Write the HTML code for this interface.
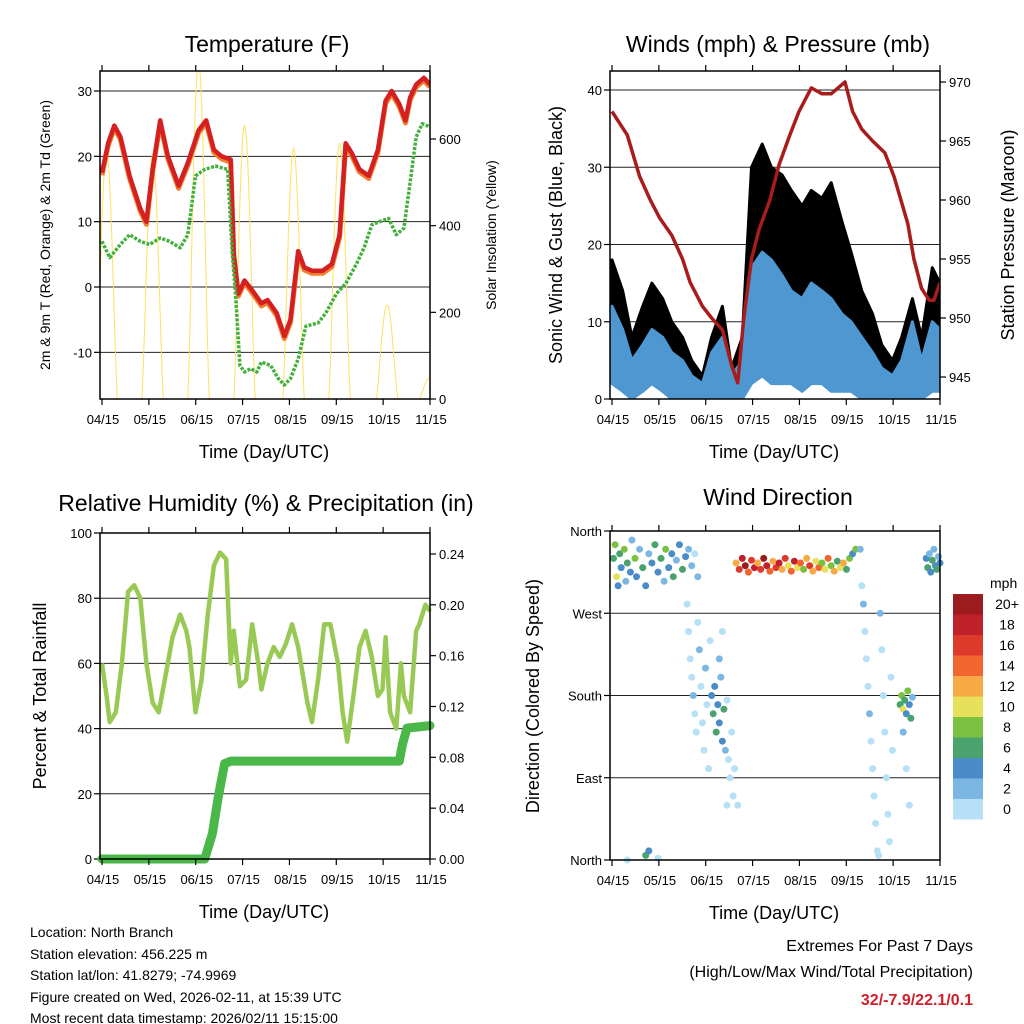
<!DOCTYPE html>
<html><head><meta charset="utf-8">
<style>
html,body{margin:0;padding:0;background:#fff;}
svg{display:block;font-family:"Liberation Sans",sans-serif;}
</style></head>
<body>
<svg id="chart" width="1024" height="1024" viewBox="0 0 1024 1024">
<rect width="1024" height="1024" fill="#fff"/>
<g id="g1"></g>
<g id="g2"></g>
<g id="g3"></g>
<g id="g4"></g>
<g id="txt">
<text x="30" y="937" font-size="14">Location: North Branch</text>
<text x="30" y="959" font-size="14">Station elevation: 456.225 m</text>
<text x="30" y="980" font-size="14">Station lat/lon: 41.8279; -74.9969</text>
<text x="30" y="1002" font-size="14">Figure created on Wed, 2026-02-11, at 15:39 UTC</text>
<text x="30" y="1023" font-size="14">Most recent data timestamp: 2026/02/11 15:15:00</text>
<text x="973" y="951" font-size="16" text-anchor="end">Extremes For Past 7 Days</text>
<text x="973" y="977" font-size="16" text-anchor="end">(High/Low/Max Wind/Total Precipitation)</text>
<text x="973" y="1005" font-size="16" font-weight="bold" fill="#d0202a" text-anchor="end">32/-7.9/22.1/0.1</text>
</g>
</svg>
<script>
// ---- data ----
const dateLabels=["04/15","05/15","06/15","07/15","08/15","09/15","10/15","11/15"];
const tempDays=[0,4,8,12,18,25,29,33,38,43,50,56,63,68,73,78,84,86,89,93,98,104,108,114,119,123,128,132,137,144,150,155,159,163,168,174,180,185,189,194,198,201,205,210,214];
const tempVals=[17.5,22,24.7,23,17,12,10,18,25.5,20,15.5,19,24,25.5,21,20,19.5,5,-1,1,-0.5,-2.5,-2,-4,-7.5,-5,5.5,3,2.5,2.5,3.5,8,22,20.5,18,17,21,28.5,30,28,25.5,29,31,32,31];
const dewDays=[0,5,12,18,25,31,38,44,51,56,61,67,74,82,85,87,90,93,97,101,104,110,115,119,123,128,133,141,146,153,159,166,171,176,181,187,192,197,201,205,209,214];
const dewVals=[7,4.5,6.5,8,7,6.5,7.5,7,6,8,17,18,18.5,18,5,-0.5,-12,-13,-12.5,-13,-11.5,-12,-14,-15,-14,-11,-6,-5.5,-4,-1,0.5,3.5,6,9.5,10,10.5,8,9,16,23,25,24.5];
const solarDays=[3,33,63,93,125,155,186,214];
const solarPeaks=[570,563,780,632,579,590,217,50];
const windDays=[0,7,13,20,26,33,39,46,52,59,65,72,78,85,91,98,104,111,117,124,130,137,143,150,156,163,170,176,183,189,196,202,209,214];
const gustHi=[18,14,8,12,15,13,10,8,5,3,8,12,4,8,30,33,30,29,27,25,27,26,28,23,19,14,11,7,5,8,13,8,17,15];
const gustLo=[5,3,2,4,6,4,2,1,0,0,0,1,0,1,8,9,8,7,6,5,6,5,5,4,3,2,2,0,0,0,2,0,3,4];
const windHi=[12,9,5,7,9,8,6,5,3,2,6,8,3,5,17,19,18,16,14,13,15,14,13,11,10,8,6,4,3,5,10,5,10,9];
const windLo=[2,1,0,1,2,1,0,0,0,0,0,0,0,0,2,3,2,2,2,1,2,2,1,1,1,0,0,0,0,0,0,0,1,1];
const presDays=[0,5,10,18,25,31,39,46,51,59,65,72,78,82,86,91,96,103,109,116,122,130,137,143,152,157,163,170,178,184,193,197,202,207,210,214];
const presVals=[967.5,966.5,965.5,962,960,958.5,957,955,953,951,950,949,946,944.5,950,955,957.5,960,963,965.5,967.5,969.5,969,969,970,967.5,966,965,964,962,958,955,952.5,951.5,951.5,953];
const rhDays=[0,3,5,9,13,17,21,25,29,33,37,41,46,51,55,57,61,65,69,73,77,81,84,86,90,94,98,102,104,108,112,116,120,124,128,134,137,141,145,149,154,157,160,164,168,172,176,180,183,185,188,192,195,197,201,205,207,211,214];
const rhVals=[60,50,42,45,60,82,84,80,60,48,45,55,68,75,70,65,45,55,75,90,94,92,60,70,53,55,72,60,52,60,65,62,66,72,65,48,42,55,72,72,60,45,36,50,65,70,62,50,52,68,45,40,60,50,45,70,72,78,76];
const rainDays=[0,67,72,76,80,84,194,196,199,214];
const rainVals=[0,0,0.02,0.05,0.075,0.077,0.077,0.09,0.103,0.105];
const dirDays=[1,2,3,4,5,6,8,9,10,12,13,15,16,18,20,22,24,26,28,30,32,34,35,37,39,40,42,44,46,48,50,52,54,56,
49,50,51,52,53,54,55,56,57,58,59,60,61,62,63,64,65,66,67,68,69,70,71,72,73,74,75,76,77,78,79,80,82,70,72,75,
81,83,85,87,89,91,93,95,97,99,101,103,105,107,109,111,113,115,117,119,121,123,125,127,129,131,133,135,137,139,141,143,145,147,149,151,153,155,157,159,
162,163,164,165,166,167,168,169,170,171,172,173,174,175,176,177,178,179,180,181,182,183,
188,189,190,191,192,193,194,195,196,190,192,194,205,206,207,208,209,210,211,212,213,214,10,22,24,30];
const dirDeg=[330,345,310,300,335,320,340,305,325,315,350,330,310,340,320,300,335,325,345,315,330,305,340,320,335,310,328,345,318,332,340,322,335,310,
280,250,220,200,180,160,140,260,230,190,150,120,210,170,100,240,180,160,190,140,170,150,200,130,165,120,175,110,90,140,70,100,60,220,250,60,
325,318,330,322,315,328,320,325,318,330,322,316,327,320,325,318,330,322,316,327,320,325,318,330,322,316,327,320,325,318,330,322,316,327,320,325,318,330,335,340,
340,300,280,250,220,190,160,130,100,70,40,10,5,270,230,180,140,90,50,20,200,120,
170,180,165,175,160,185,170,155,178,140,100,60,330,320,335,315,328,340,322,318,332,325,0,5,10,2];
const dirSpeed=[6,8,10,4,7,5,9,3,6,4,2,8,5,3,6,4,2,5,7,4,6,3,8,5,4,6,3,5,7,4,2,3,1,2,
1,0,1,0,2,1,0,1,2,1,0,1,2,1,0,1,4,6,5,7,4,5,3,4,6,2,1,0,1,0,1,0,0,2,1,1,
12,16,18,20,14,17,19,12,16,20,18,15,13,17,19,12,16,10,14,18,11,15,9,13,17,12,10,14,8,11,15,9,12,7,10,13,6,9,5,8,
3,1,2,1,0,1,2,0,1,0,1,0,0,2,1,0,1,0,1,0,1,0,
6,8,10,7,5,9,4,6,3,2,1,0,4,6,3,5,7,2,4,6,3,5,1,6,4,1];
const speedColors=["#b5e0f5","#7cb7e3","#4a8cc7","#4aa36c","#7ac142","#e6e05a","#f7a945","#f26430","#de3a2b","#c0202a","#9b1b1e"];
const speedLabels=["0","2","4","6","8","10","12","14","16","18","20+"];

// ---- helpers ----
const NS="http://www.w3.org/2000/svg";
function mk(parent,tag,attrs,text){const e=document.createElementNS(NS,tag);for(const k in attrs)e.setAttribute(k,attrs[k]);if(text!==undefined)e.textContent=text;parent.appendChild(e);return e;}
function lin(d0,d1,r0,r1){return v=>r0+(v-d0)*(r1-r0)/(d1-d0);}
function pathFrom(xs,ys,fx,fy){return xs.map((d,i)=>(i?"L":"M")+fx(d).toFixed(1)+","+fy(ys[i]).toFixed(1)).join("");}

function frame(g,L,T,R,B,name){
  const r=mk(g,"rect",{x:L,y:T,width:R-L,height:B-T,fill:"none",stroke:"#000","stroke-width":1.5});
  
  
}
function xAxis(g,fx,B,T,name){
  dateLabels.forEach((lab,i)=>{
    const x=fx(i*214/7);
    const t=mk(g,"line",{x1:x,y1:B,x2:x,y2:B+6,stroke:"#000","stroke-width":1.2});
    
    
    const t2=mk(g,"line",{x1:x,y1:T,x2:x,y2:T-6,stroke:"#000","stroke-width":1.2});
    
    
    const tx=mk(g,"text",{x:x+1,y:B+25,"font-size":13,"text-anchor":"middle"},lab);
    
    
  });
  const cx=(fx(0)+fx(214))/2-2;
  const at=mk(g,"text",{x:cx,y:B+59,"font-size":18,"text-anchor":"middle"},"Time (Day/UTC)");
  
  
}
function yTicks(g,vals,labs,fy,x,side,grid,L,R){
  vals.forEach((v,i)=>{
    const y=fy(v);
    if(grid&&y>fy.top+2&&y<fy.bot-2){const gl=mk(g,"line",{x1:L,y1:y,x2:R,y2:y,stroke:"#222","stroke-width":1});
      
      }
    const tk=mk(g,"line",{x1:x,y1:y,x2:x+(side<0?-6:6),y2:y,stroke:"#000","stroke-width":1.2});
    
    
    const tx=mk(g,"text",{x:x+(side<0?-8:9),y:y+5,"font-size":13,"text-anchor":side<0?"end":"start"},labs[i]);
    
    
  });
}
function vtext(g,x,y,s,size,name){
  const t=mk(g,"text",{x:x,y:y,"font-size":size,"text-anchor":"middle",transform:`rotate(-90 ${x} ${y})`},s);
  
  
}
function title(g,x,y,s,name){
  const t=mk(g,"text",{x:x,y:y,"font-size":23,"text-anchor":"middle"},s);
  
  
}

// ---- Panel 1 ----
(function(){
  const g=document.getElementById("g1");
  const L=100,R=430,T=71,B=399;
  const fx=lin(0,214,102,430);
  const fy=lin(0,30,287,91); fy.top=T; fy.bot=B;
  const fs=lin(0,600,399,139); fs.top=T; fs.bot=B;
  title(g,267,52,"Temperature (F)","temperature-title");
  const defs=mk(g,"clipPath",{id:"c1"}); mk(defs,"rect",{x:L,y:T,width:R-L,height:B-T});
  yTicks(g,[-10,0,10,20,30],["-10","0","10","20","30"],fy,L,-1,true,L,R);
  yTicks(g,[0,200,400,600],["0","200","400","600"],fs,R,1,false,L,R);
  const cg=mk(g,"g",{"clip-path":"url(#c1)"});
  solarDays.forEach((d,i)=>{
    let p="";const w=7;
    for(let k=0;k<=20;k++){const dd=d-w+k*w/10;const v=solarPeaks[i]*Math.pow(Math.sin(Math.PI*k/20),1.3);p+=(k?"L":"M")+fx(dd).toFixed(1)+","+fs(v).toFixed(1);}
    const s=mk(cg,"path",{d:p,fill:"none",stroke:"#ffe060","stroke-width":1});
    
    
  });
  const o=mk(cg,"path",{d:pathFrom(tempDays,tempVals.map(v=>v-0.4),fx,fy),fill:"none",stroke:"#f08030","stroke-width":5,"stroke-linejoin":"round"});
  
  
  const r=mk(cg,"path",{d:pathFrom(tempDays,tempVals,fx,fy),fill:"none",stroke:"#d42020","stroke-width":4.5,"stroke-linejoin":"round"});
  
  
  const gr=mk(cg,"path",{d:pathFrom(dewDays,dewVals,fx,fy),fill:"none",stroke:"#44b03c","stroke-width":3.5,"stroke-dasharray":"3 1.5","stroke-linejoin":"round"});
  
  
  frame(g,L,T,R,B,"temperature");
  xAxis(g,fx,B,T,"temperature");
  vtext(g,50,235,"2m & 9m T (Red, Orange) & 2m Td (Green)",14,"temperature-y-axis-title");
  vtext(g,496,235,"Solar Insolation (Yellow)",14,"solar-y-axis-title");
})();

// ---- Panel 2 ----
(function(){
  const g=document.getElementById("g2");
  const L=610,R=940,T=71,B=399;
  const fx=lin(0,214,612,940);
  const fy=lin(0,40,399,90); fy.top=T; fy.bot=B;
  const fp=lin(945,970,377,82); fp.top=T; fp.bot=B;
  title(g,778,52,"Winds (mph) & Pressure (mb)","winds-title");
  const defs=mk(g,"clipPath",{id:"c2"}); mk(defs,"rect",{x:L,y:T,width:R-L,height:B-T});
  yTicks(g,[0,10,20,30,40],["0","10","20","30","40"],fy,L,-1,true,L,R);
  yTicks(g,[945,950,955,960,965,970],["945","950","955","960","965","970"],fp,R,1,false,L,R);
  const cg=mk(g,"g",{"clip-path":"url(#c2)"});
  function band(hi,lo,col,name){
    let p=pathFrom(windDays,hi,fx,fy);
    for(let i=windDays.length-1;i>=0;i--)p+="L"+fx(windDays[i]).toFixed(1)+","+fy(lo[i]).toFixed(1);
    const e=mk(cg,"path",{d:p+"Z",fill:col,stroke:col,"stroke-width":3,"stroke-linejoin":"round"});
    
    
  }
  band(gustHi,gustLo,"#000","gust-black-band");
  band(windHi,windLo,"#4f97d0","wind-blue-band");
  const pl=mk(cg,"path",{d:pathFrom(presDays,presVals,fx,fp),fill:"none",stroke:"#a81c1c","stroke-width":3.5,"stroke-linejoin":"round"});
  
  
  frame(g,L,T,R,B,"winds");
  xAxis(g,fx,B,T,"winds");
  vtext(g,562,235,"Sonic Wind & Gust (Blue, Black)",18,"wind-y-axis-title");
  vtext(g,1014,235,"Station Pressure (Maroon)",18,"pressure-y-axis-title");
})();

// ---- Panel 3 ----
(function(){
  const g=document.getElementById("g3");
  const L=100,R=430,T=533,B=859;
  const fx=lin(0,214,102,430);
  const fy=lin(0,100,859,533); fy.top=T; fy.bot=B;
  const fr=lin(0,0.24,859,554); fr.top=T; fr.bot=B;
  title(g,266,511,"Relative Humidity (%) & Precipitation (in)","humidity-title");
  yTicks(g,[0,20,40,60,80,100],["0","20","40","60","80","100"],fy,L,-1,true,L,R);
  yTicks(g,[0,0.04,0.08,0.12,0.16,0.2,0.24],["0.00","0.04","0.08","0.12","0.16","0.20","0.24"],fr,R,1,false,L,R);
  const rh=mk(g,"path",{d:pathFrom(rhDays,rhVals,fx,fy),fill:"none",stroke:"#99c955","stroke-width":4.5,"stroke-linejoin":"round"});
  
  
  const pr=mk(g,"path",{d:pathFrom(rainDays,rainVals,fx,fr),fill:"none",stroke:"#4ab848","stroke-width":9,"stroke-linejoin":"round","stroke-linecap":"round"});
  
  
  frame(g,L,T,R,B,"humidity");
  xAxis(g,fx,B,T,"humidity");
  vtext(g,46,696,"Percent & Total Rainfall",18,"humidity-y-axis-title");
})();

// ---- Panel 4 ----
(function(){
  const g=document.getElementById("g4");
  const L=610,R=940,T=531,B=860;
  const fx=lin(0,214,612,940);
  const fy=lin(0,360,860,531); fy.top=T; fy.bot=B;
  title(g,778,505,"Wind Direction","wind-direction-title");
  yTicks(g,[0,90,180,270,360],["North","East","South","West","North"],fy,L,-1,true,L,R);
  dirDays.forEach((d,i)=>{
    const c=speedColors[Math.min(10,Math.floor(dirSpeed[i]/2))];
    const dot=mk(g,"circle",{cx:fx(d).toFixed(1),cy:fy(dirDeg[i]).toFixed(1),r:3.5,fill:c});
    
    
  });
  frame(g,L,T,R,B,"wind-direction");
  xAxis(g,fx,B,T,"wind-direction");
  vtext(g,539,696,"Direction (Colored By Speed)",18,"direction-y-axis-title");
  const lt=mk(g,"text",{x:990,y:588,"font-size":14},"mph");
  
  
  speedColors.forEach((c,i)=>{
    const y=594+(10-i)*20.5;
    const b=mk(g,"rect",{x:953,y:y,width:30,height:20.5,fill:c});
    
    
    const t=mk(g,"text",{x:1007,y:y+15,"font-size":14,"text-anchor":"middle"},speedLabels[i]);
    
    
  });
})();
</script>
</body></html>
